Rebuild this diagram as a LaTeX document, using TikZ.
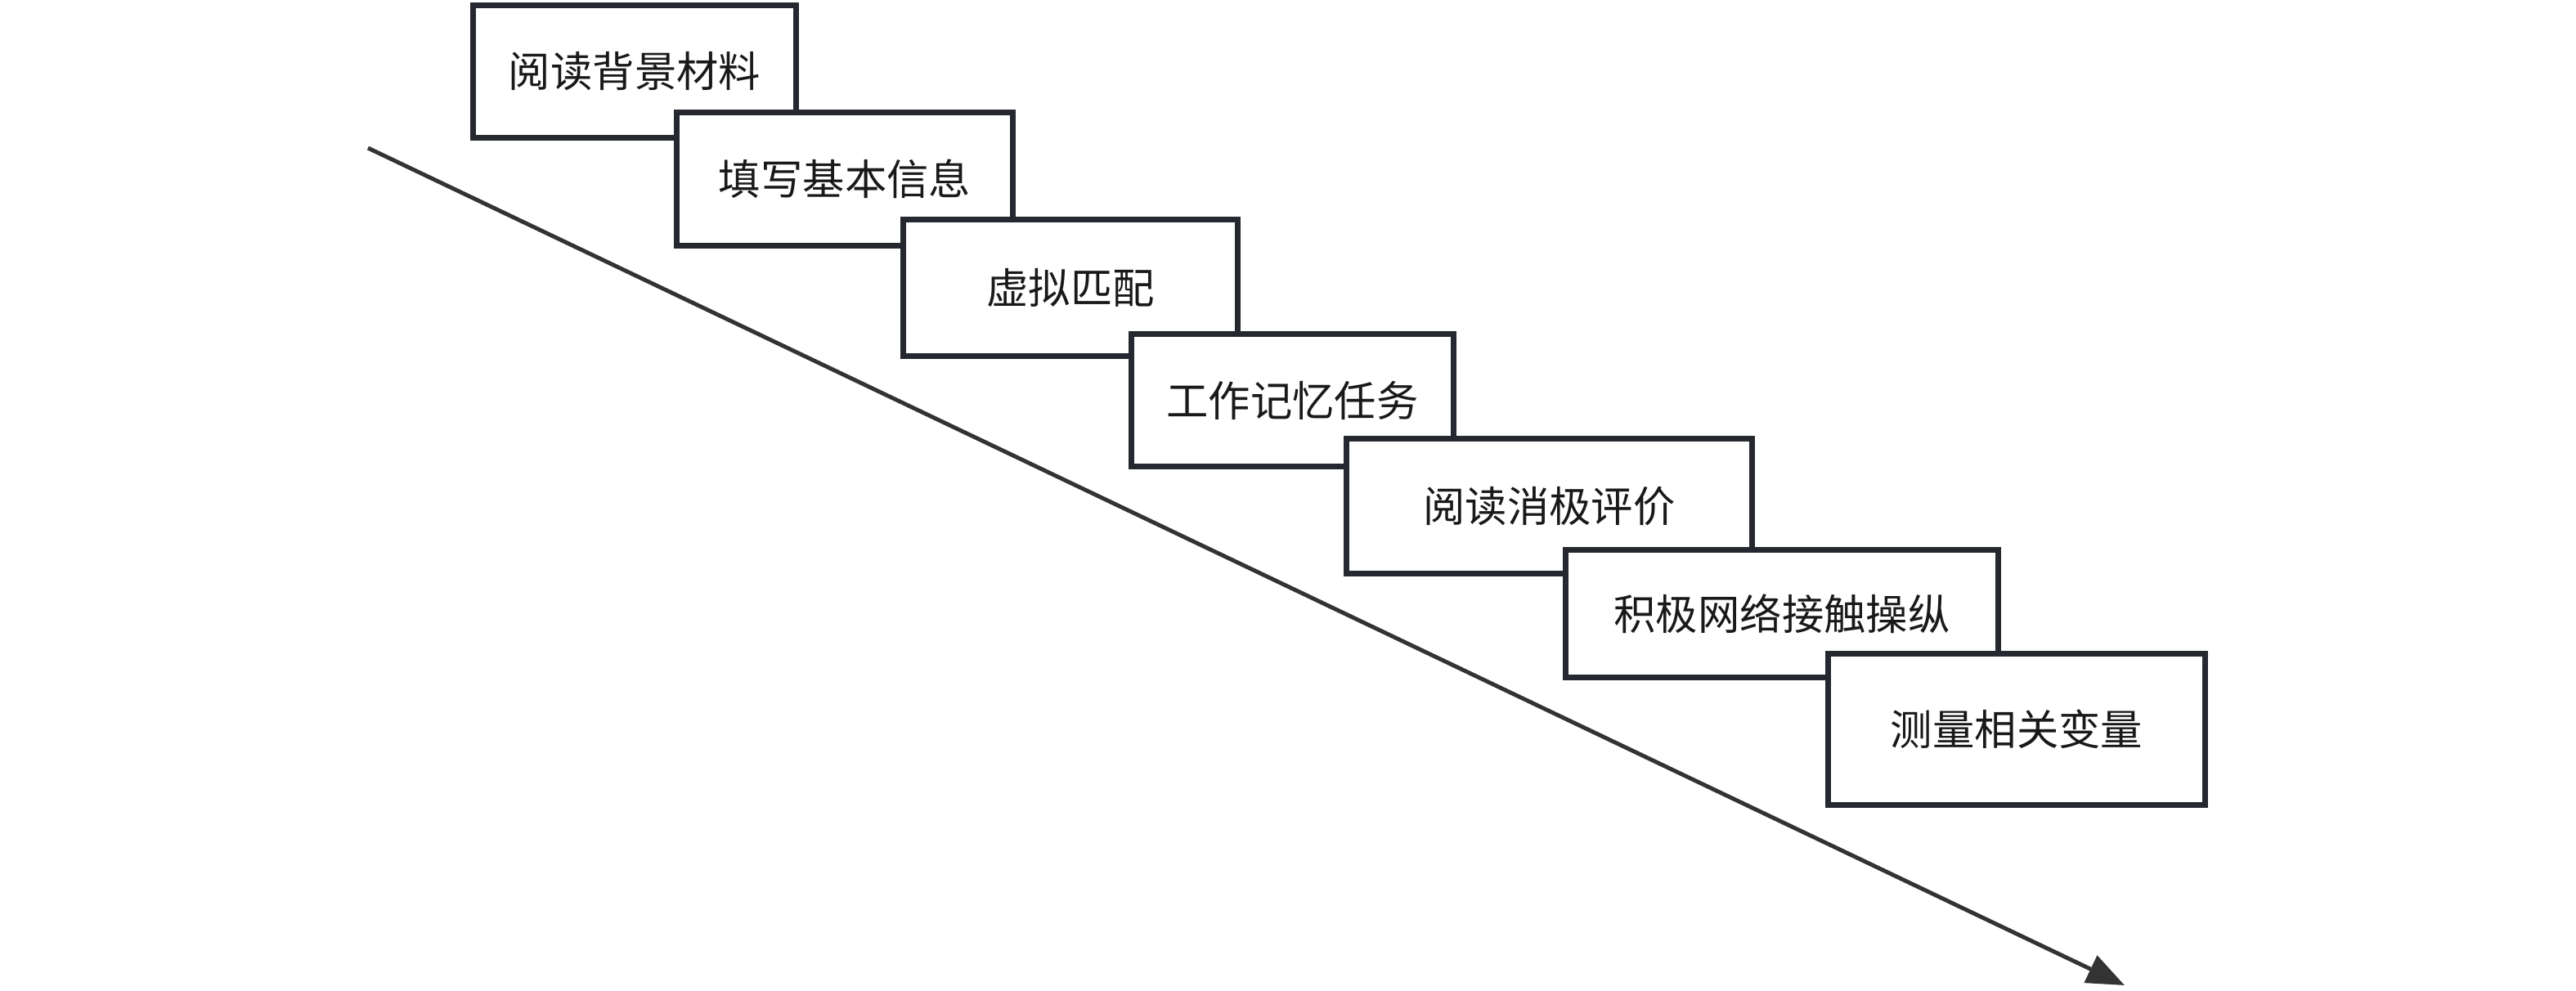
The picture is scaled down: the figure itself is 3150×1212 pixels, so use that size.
\documentclass[tikz,border=0pt]{standalone}
\usepackage{fontspec}
\newfontfamily\cjk{Noto Sans CJK SC}
\usetikzlibrary{arrows.meta}
\definecolor{boxline}{HTML}{25282E}
\definecolor{arrowgray}{HTML}{333333}
\tikzset{
  stepbox/.style={draw=boxline, line width=0.07cm, fill=white, rectangle,
    inner sep=0pt, text=black!90, font=\cjk\fontsize{14.6pt}{16pt}\selectfont},
  timeline/.style={draw=arrowgray, line width=0.05cm,
    -{Triangle[length=0.46cm, width=0.36cm]}}
}
\begin{document}
\begin{tikzpicture}[x=0.01cm, y=-0.01cm]
\fill[white] (0,0) rectangle (3150,1212);
\useasboundingbox (0,0) rectangle (3150,1212);
\coordinate (s) at (450,181);
\coordinate (e) at (2598,1205);
\draw[timeline] (s) -- (e);
\node[stepbox, minimum width=3.95cm, minimum height=1.62cm] (b1) at (776,87.5) {阅读背景材料};
\node[stepbox, minimum width=4.11cm, minimum height=1.63cm] (b2) at (1033,219) {填写基本信息};
\node[stepbox, minimum width=4.09cm, minimum height=1.67cm] (b3) at (1309,352) {虚拟匹配};
\node[stepbox, minimum width=3.94cm, minimum height=1.62cm] (b4) at (1580.5,489.5) {工作记忆任务};
\node[stepbox, minimum width=4.96cm, minimum height=1.65cm] (b5) at (1894.5,619) {阅读消极评价};
\node[stepbox, minimum width=5.29cm, minimum height=1.56cm] (b6) at (2179,750.5) {积极网络接触操纵};
\node[stepbox, minimum width=4.61cm, minimum height=1.85cm] (b7) at (2466,892) {测量相关变量};
\end{tikzpicture}
\end{document}
